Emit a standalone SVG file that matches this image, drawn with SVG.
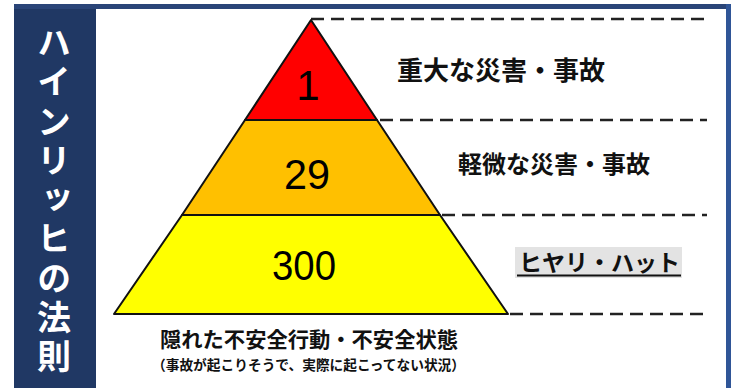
<svg xmlns="http://www.w3.org/2000/svg" width="740" height="388" viewBox="0 0 740 388">
<style>
.title{font-family:"Noto Sans CJK JP","Noto Sans CJK SC",sans-serif;font-weight:700;font-size:34px;fill:#ffffff;writing-mode:vertical-rl;letter-spacing:5.3px}
.num{font-family:"Liberation Sans",Arial,sans-serif;font-size:42px;fill:#000;text-anchor:middle}
.lbl{font-family:"Liberation Sans","Noto Sans CJK JP",sans-serif;font-weight:700;fill:#111}
.dash{stroke:#222;stroke-width:2.5;stroke-dasharray:13 7;fill:none}
.band{stroke:#111;stroke-width:2;stroke-linejoin:round}
</style>
<rect x="0" y="0" width="740" height="388" fill="#ffffff"/>
<g id="frame">
<rect x="14" y="4" width="82" height="384" fill="#203864"/>
<rect x="14" y="4" width="717" height="5" fill="#2a4578"/>
<rect x="726" y="4" width="5" height="384" fill="#2f5597"/>
</g>
<g id="title">
<text class="title" x="54" y="25">ハインリッヒの法則</text>
</g>
<g id="connectors">
<line class="dash" x1="311" y1="19" x2="707" y2="19"/>
<line class="dash" x1="380" y1="120" x2="707" y2="120"/>
<line class="dash" x1="442" y1="215" x2="707" y2="215"/>
<line class="dash" x1="510" y1="314" x2="707" y2="314"/>
</g>
<g id="level-1">
<polygon class="band" points="311,20 377,120 245,120" fill="#ff0000"/>
<text class="num" x="308" y="100">1</text>
</g>
<g id="level-29">
<polygon class="band" points="245,120 377,120 440,215 182,215" fill="#ffc000"/>
<text class="num" x="307" y="189" textLength="46" lengthAdjust="spacingAndGlyphs">29</text>
</g>
<g id="level-300">
<polygon class="band" points="182,215 440,215 508,314 114,314" fill="#ffff00"/>
<text class="num" x="304" y="280" textLength="64" lengthAdjust="spacingAndGlyphs">300</text>
</g>
<g id="label-major">
<text class="lbl" x="397" y="80" font-size="26">重大な災害・事故</text>
</g>
<g id="label-minor">
<text class="lbl" x="458" y="173" font-size="24">軽微な災害・事故</text>
</g>
<g id="label-hiyari">
<rect x="515" y="247" width="167" height="31" fill="#e3e3e3"/>
<text class="lbl" x="519" y="271" font-size="23" textLength="161" lengthAdjust="spacingAndGlyphs">ヒヤリ・ハット</text>
<line x1="517" y1="275.5" x2="681" y2="275.5" stroke="#111" stroke-width="2"/>
</g>
<g id="label-hidden">
<text class="lbl" x="160" y="347" font-size="21" textLength="298" lengthAdjust="spacingAndGlyphs">隠れた不安全行動・不安全状態</text>
<text class="lbl" x="152" y="370" font-size="14" textLength="313" lengthAdjust="spacingAndGlyphs">（事故が起こりそうで、実際に起こってない状況）</text>
</g>
</svg>
